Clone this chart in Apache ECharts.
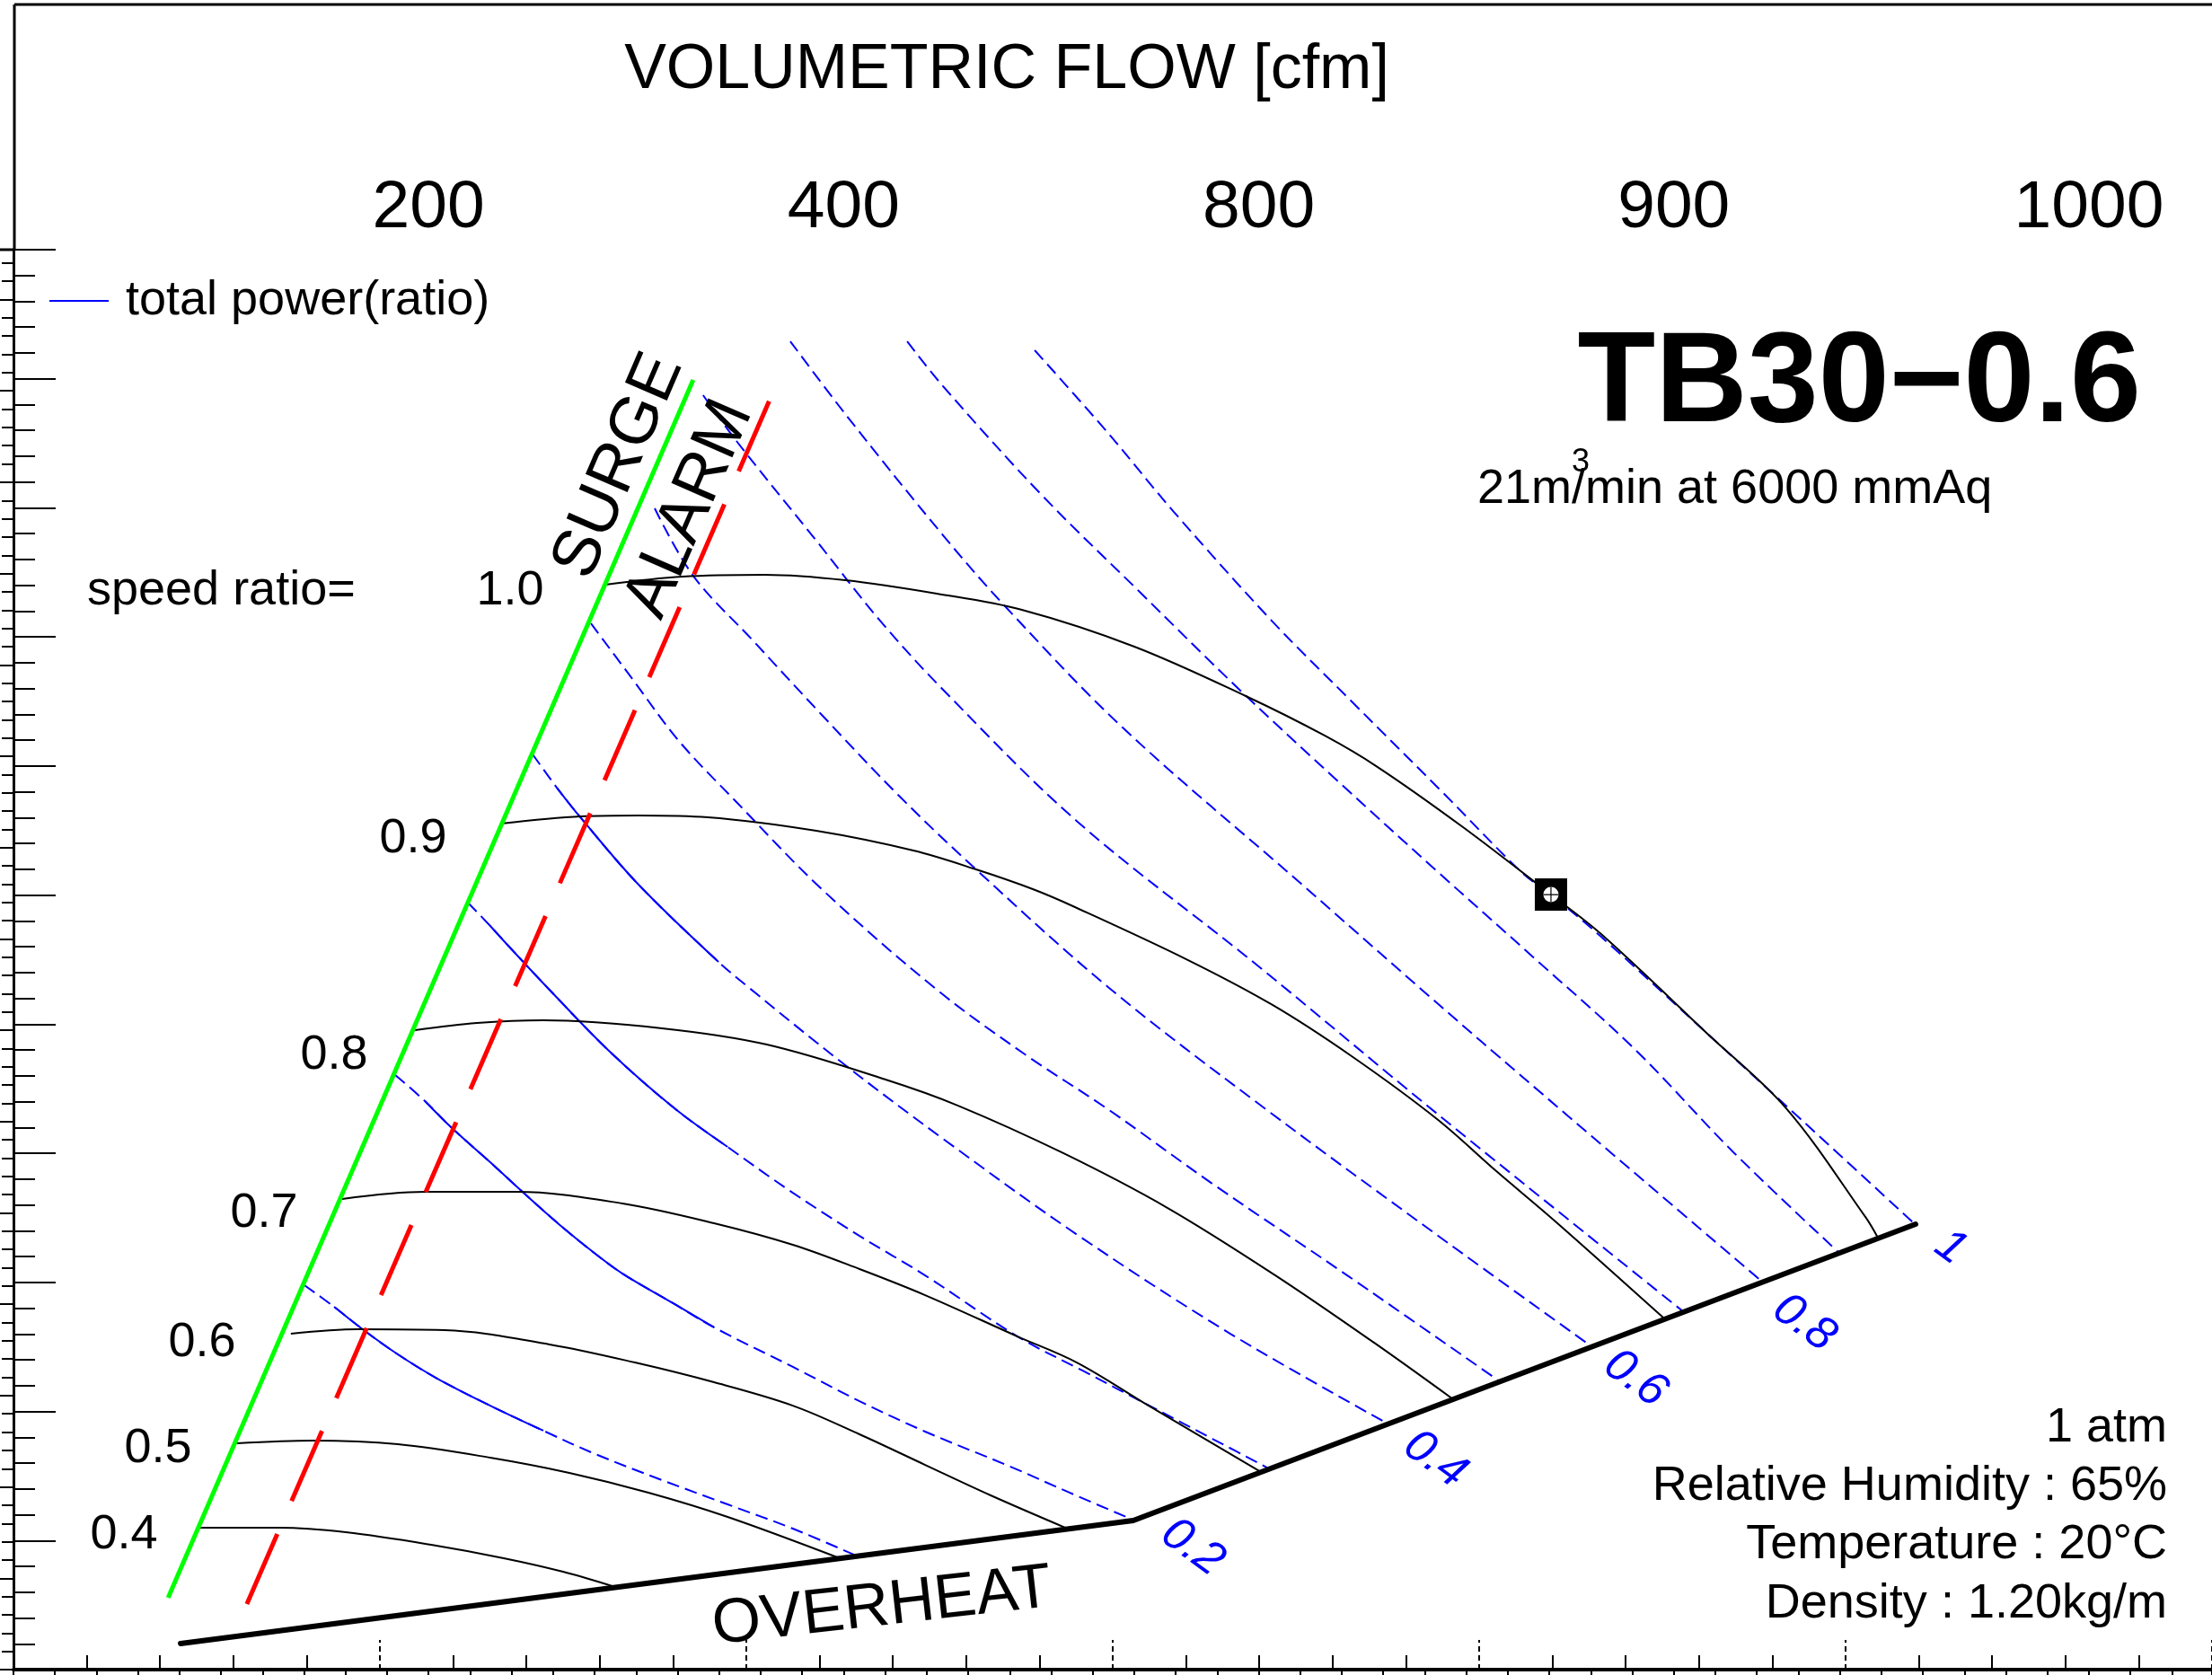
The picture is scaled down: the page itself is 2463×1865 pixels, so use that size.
<!DOCTYPE html>
<html><head><meta charset="utf-8">
<script src="https://cdn.jsdelivr.net/npm/echarts@6/dist/echarts.min.js"></script>
<style>html,body{margin:0;padding:0;background:#fff}#c{width:2463px;height:1865px}</style>
</head><body><div id="c"></div>
<script>
const FONT = '"Liberation Sans", Arial, sans-serif';

// top (cfm) axis labels
const topTickPos = [2, 4, 6, 8, 10];
const topTickLabels = ['200', '400', '800', '900', '1000'];

// boundary lines
const surgeLine = [[0.422, 0.557], [1.855, 9.991]];
const alarmLine = [[0.637, 0.508], [2.098, 10.06]];
const overheatLine = [[0.456, 0.202], [3.056, 1.155], [5.191, 3.451]];

// constant speed-ratio curves
const speedNames = ['1.0', '0.9', '0.8', '0.7', '0.6', '0.5', '0.4'];
const speed10 = [[1.615,8.405],[1.826,8.467],[2.051,8.481],[2.270,8.439],[2.520,8.335],[2.752,8.210],[3.059,7.925],[3.363,7.542],[3.578,7.236],[3.723,6.992],[3.956,6.526],[4.196,6.004],[4.333,5.698],[4.623,4.926],[4.838,4.348],[5.054,3.507],[5.088,3.347]];
const speed09 = [[1.331,6.554],[1.549,6.610],[1.706,6.617],[1.895,6.603],[2.191,6.498],[2.456,6.345],[2.627,6.199],[2.782,6.046],[2.897,5.907],[3.201,5.503],[3.436,5.149],[3.652,4.752],[3.885,4.265],[4.047,3.861],[4.208,3.472],[4.505,2.720]];
const speed08 = [[1.096,4.954],[1.265,5.009],[1.446,5.030],[1.770,4.968],[2.056,4.842],[2.380,4.571],[2.578,4.369],[2.865,4.001],[3.150,3.576],[3.444,3.054],[3.713,2.533],[3.929,2.094]];
const speed07 = [[0.897,3.646],[1.123,3.701],[1.373,3.701],[1.662,3.611],[1.912,3.458],[2.127,3.291],[2.309,3.103],[2.488,2.901],[2.740,2.581],[2.902,2.379],[3.098,2.045],[3.400,1.538]];
const speed06 = [[0.757,2.602],[0.941,2.637],[1.176,2.630],[1.463,2.519],[1.696,2.379],[1.912,2.226],[2.127,2.045],[2.309,1.823],[2.488,1.586],[2.667,1.350],[2.877,1.092]];
const speed05 = [[0.610,1.753],[0.816,1.774],[1.049,1.746],[1.301,1.642],[1.517,1.524],[1.733,1.371],[1.949,1.183],[2.255,0.863]];
const speed04 = [[0.505,1.099],[0.725,1.099],[0.907,1.064],[1.140,0.967],[1.338,0.863],[1.500,0.758],[1.642,0.640]];

// total power ratio curves
const power01 = [[0.794,2.978],[0.875,2.811],[0.956,2.630],[1.049,2.442],[1.157,2.254],[1.301,2.045],[1.446,1.851],[1.588,1.670],[1.770,1.468],[1.949,1.280],[2.127,1.092],[2.299,0.884]];
const power02 = [[1.042,4.606],[1.123,4.404],[1.194,4.202],[1.301,3.931],[1.392,3.694],[1.500,3.423],[1.588,3.221],[1.662,3.068],[1.804,2.832],[1.912,2.651],[2.127,2.345],[2.309,2.080],[2.488,1.844],[2.721,1.572],[2.882,1.371],[3.054,1.162]];
const power03 = [[1.240,5.942],[1.299,5.768],[1.348,5.615],[1.458,5.281],[1.625,4.794],[1.804,4.348],[1.949,4.049],[2.127,3.694],[2.309,3.360],[2.488,3.054],[2.740,2.581],[2.917,2.317],[3.100,2.045],[3.272,1.788],[3.426,1.558]];
const power04 = [[1.417,7.090],[1.483,6.832],[1.549,6.596],[1.706,6.081],[1.924,5.483],[2.002,5.295],[2.267,4.689],[2.537,4.112],[2.904,3.367],[3.321,2.602],[3.750,1.906]];
const power05 = [[1.576,8.105],[1.691,7.667],[1.816,7.194],[1.973,6.721],[2.206,6.046],[2.520,5.267],[2.757,4.773],[2.990,4.335],[3.272,3.764],[3.640,3.054],[4.056,2.233]];
const power06 = [[1.750,8.996],[1.855,8.474],[2.020,7.966],[2.206,7.396],[2.414,6.777],[2.627,6.199],[2.990,5.281],[3.395,4.390],[3.885,3.367],[4.306,2.505]];
const power07 = [[1.882,9.873],[1.973,9.518],[2.191,8.746],[2.363,8.133],[2.537,7.591],[2.904,6.568],[3.395,5.455],[3.885,4.307],[4.556,2.776]];
const power08 = [[2.120,10.290],[2.272,9.720],[2.537,8.787],[2.706,8.238],[3.027,7.298],[3.517,6.081],[4.007,4.863],[4.772,3.006]];
const power09 = [[2.439,10.290],[2.537,9.942],[2.806,9.100],[3.076,8.342],[3.346,7.591],[3.615,6.881],[3.885,6.185],[4.154,5.503],[4.424,4.808],[4.694,4.008],[4.980,3.235]];
const power10 = [[2.787,10.221],[2.985,9.587],[3.167,8.968],[3.436,8.119],[3.652,7.500],[3.902,6.791],[4.118,6.171],[4.196,6.004],[4.333,5.677],[4.623,4.926],[4.963,4.042],[5.189,3.451]];
const powerLabels = ['0.2', '0.4', '0.6', '0.8', '1'];

// design point
const designPoint = [4.196, 6.004];

// conditions text
const conditions = ['1 atm', 'Relative Humidity : 65%', 'Temperature : 20\u00B0C', 'Density : 1.20kg/m'];

// ---------- build ----------
const BLUE = '#0000ff';
const speedCurves = [speed10, speed09, speed08, speed07, speed06, speed05, speed04];
const powerCurves = [power01, power02, power03, power04, power05, power06, power07, power08, power09, power10];
const solidParts = {0: [1, 6], 1: [1, 9], 2: [1, 6], 3: [1, 4]};

const series = [];
powerCurves.forEach((c, i) => {
  series.push({
    type: 'line', name: 'total power(ratio)', data: c, showSymbol: false, smooth: 0.35, silent: true,
    lineStyle: {color: BLUE, width: 2, type: [14, 7]}, itemStyle: {color: BLUE}, z: 3
  });
  if (solidParts[i]) {
    series.push({
      type: 'line', name: 'total power(ratio)', data: c.slice(solidParts[i][0], solidParts[i][1] + 1),
      showSymbol: false, smooth: 0.35, silent: true,
      lineStyle: {color: BLUE, width: 2}, itemStyle: {color: BLUE}, z: 3
    });
  }
});
speedCurves.forEach((c, i) => {
  series.push({
    type: 'line', name: 'speed ' + speedNames[i], data: c, showSymbol: false, smooth: 0.35, silent: true,
    lineStyle: {color: '#000', width: 2}, z: 4
  });
});
series.push({type: 'line', name: 'overheat', data: overheatLine, showSymbol: false, silent: true,
  lineStyle: {color: '#000', width: 6, cap: 'round', join: 'round'}, z: 5});
series.push({type: 'line', name: 'surge', data: surgeLine, showSymbol: false, silent: true,
  lineStyle: {color: '#00ff00', width: 5}, z: 5});
series.push({type: 'line', name: 'alarm', data: alarmLine, showSymbol: false, silent: true,
  lineStyle: {color: '#ff0000', width: 5, type: [85, 40]}, z: 5});
series.push({type: 'scatter', name: 'design', data: [designPoint], symbol: 'rect', symbolSize: 36,
  itemStyle: {color: '#000', opacity: 1}, silent: true, z: 10});
series.push({type: 'scatter', name: 'design2', data: [designPoint], symbol: 'circle', symbolSize: 17,
  itemStyle: {color: '#fff', opacity: 1}, silent: true, z: 11});
series.push({type: 'scatter', name: 'design3', data: [designPoint],
  symbol: 'path://M0,9.3H20V10.7H0Z M9.3,0H10.7V20H9.3Z', symbolSize: 17,
  itemStyle: {color: '#000', opacity: 1}, silent: true, z: 12});

function txt(text, x, y, size, o) {
  o = o || {};
  return {type: 'text', x: x, y: y, rotation: o.rot || 0, z: 100, silent: true,
    style: {text: text, fill: o.color || '#000',
      font: (o.italic ? 'italic ' : '') + (o.bold ? 'bold ' : '') + size + 'px ' + FONT,
      align: o.align || 'center', verticalAlign: 'middle'}};
}
function ln(x1, y1, x2, y2, w) {
  return {type: 'line', silent: true, z: 100, shape: {x1, y1, x2, y2}, style: {stroke: '#000', lineWidth: w}};
}

const speedLabelPos = [[568, 658], [460, 934], [372, 1175], [294, 1351], [225, 1495], [176, 1613], [138, 1709]];
const powerLabelPos = [[1328, 1723], [1598, 1625], [1821, 1535], [2009, 1473], [2172, 1389]];

const graphic = [
  ln(16, 5, 2463, 5, 3), ln(16, 5, 16, 278, 3), ln(0, 278, 16, 278, 3),
  txt('VOLUMETRIC FLOW [cfm]', 1121, 79, 70),
  txt('speed ratio=', 97, 658, 54, {align: 'left'}),
  txt('SURGE', 689, 519, 74, {rot: 1.164}),
  txt('ALARM', 768, 567, 74, {rot: 1.160}),
  txt('OVERHEAT', 982, 1790, 70, {rot: 0.113}),
  txt('TB30\u22120.6', 2384, 430, 142, {bold: true, align: 'right'}),
  txt('21m/min at 6000 mmAq', 1645, 545, 54, {align: 'left'}),
  txt('3', 1760, 515, 36)
];
speedNames.forEach((s, i) => graphic.push(txt(s, speedLabelPos[i][0], speedLabelPos[i][1], 54)));
powerLabels.forEach((s, i) => graphic.push(txt(s, powerLabelPos[i][0], powerLabelPos[i][1], 52, {color: BLUE, italic: true, rot: -0.63})));
conditions.forEach((s, i) => graphic.push(txt(s, 2413, 1590 + i * 65.3, 54, {align: 'right'})));

const chart = echarts.init(document.getElementById('c'), null, {renderer: 'canvas'});
chart.setOption({
  animation: false,
  backgroundColor: '#fff',
  grid: {left: 15, right: 0, top: 278, bottom: 6, containLabel: false},
  legend: {
    data: ['total power(ratio)'], left: 50, top: 303, icon: 'rect', itemWidth: 66, itemHeight: 2,
    itemStyle: {color: BLUE, borderWidth: 0}, selectedMode: false,
    textStyle: {fontSize: 54, fontFamily: FONT, color: '#000', padding: [0, 0, 0, 14]}
  },
  xAxis: [
    {type: 'value', position: 'bottom', min: 0, max: 6, interval: 1,
      axisLine: {show: true, lineStyle: {color: '#000', width: 4}},
      axisTick: {show: true, inside: true, length: 33, lineStyle: {color: '#000', width: 2, type: [6, 4]}},
      minorTick: {show: true, splitNumber: 5, length: 16, lineStyle: {color: '#000', width: 2}},
      axisLabel: {show: false}, splitLine: {show: false}, minorSplitLine: {show: false}},
    {type: 'value', position: 'top', min: 0, max: 10.593, interval: 1,
      axisLine: {show: true, lineStyle: {color: '#000', width: 3}},
      axisTick: {show: true, inside: true, length: 23, lineStyle: {color: '#000', width: 2}},
      minorTick: {show: true, splitNumber: 5, length: 10, lineStyle: {color: '#000', width: 2}},
      axisLabel: {show: true, margin: 8, fontSize: 75, fontFamily: FONT, color: '#000',
        showMinLabel: false, showMaxLabel: false,
        formatter: v => { const k = topTickPos.indexOf(Math.round(v)); return (k >= 0 && Math.abs(v - Math.round(v)) < 1e-6) ? topTickLabels[k] : ''; }},
      splitLine: {show: false}}
  ],
  yAxis: [
    {type: 'value', position: 'left', min: 0, max: 11, interval: 1,
      axisLine: {show: true, lineStyle: {color: '#000', width: 3}},
      axisTick: {show: true, inside: true, length: 47, lineStyle: {color: '#000', width: 2}},
      minorTick: {show: true, splitNumber: 5, length: 24, lineStyle: {color: '#000', width: 2}},
      axisLabel: {show: false}, splitLine: {show: false}},
    {type: 'value', position: 'right', min: 0, max: 15.546, interval: 1,
      axisLine: {show: false},
      axisTick: {show: true, inside: true, length: 28, lineStyle: {color: '#000', width: 2}},
      minorTick: {show: true, splitNumber: 5, length: 13, lineStyle: {color: '#000', width: 2}},
      axisLabel: {show: false}, splitLine: {show: false}}
  ],
  series: series,
  graphic: graphic
});
</script></body></html>
